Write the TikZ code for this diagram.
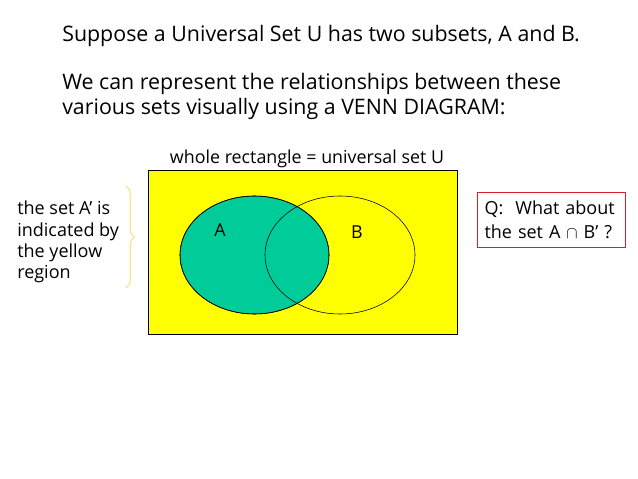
\documentclass[tikz,border=0pt]{standalone}
\usepackage{amsmath,amssymb}
\usepackage{fontspec}
\setmainfont{Open Sans}
\usetikzlibrary{decorations.pathreplacing}
\definecolor{vennyellow}{RGB}{255,255,0}
\definecolor{venngreen}{RGB}{0,204,153}
\definecolor{braceyellow}{RGB}{240,230,140}
\definecolor{qred}{RGB}{220,30,40}
\tikzset{
  slidetext/.style={anchor=base west,inner sep=0pt,font=\fontsize{15.2}{18}\selectfont},
  sidetext/.style={anchor=north west,inner sep=0pt,align=left,font=\fontsize{12.8}{15}\selectfont},
}

\begin{document}
\begin{tikzpicture}[x=0.025cm,y=-0.025cm]
 % \draw[thin,gray!40] (0,0) grid[step=50] (638,479);
  \useasboundingbox (0,0) rectangle (638,479);
  \node[slidetext] (line1) at (62,42) {Suppose a Universal Set U has two subsets, A and B.};
  \node[slidetext] (line2) at (62,90) {We can represent the relationships between these};
  \node[slidetext] (line3) at (62,114) {various sets visually using a VENN DIAGRAM:};
  \node[anchor=base,inner sep=0pt,font=\fontsize{12.7}{14}\selectfont] (ulabel) at (307,163) {whole rectangle = universal set U};
  \draw[fill=vennyellow] (148,170) rectangle (457,334);
  \draw[fill=venngreen] (254.5,255) ellipse [x radius=74.5, y radius=59];
  \draw (340,255) ellipse [x radius=75, y radius=59];
  \draw (254.5,255) ellipse [x radius=74.5, y radius=59];
  \node[font=\fontsize{12.7}{14}\selectfont] (A) at (220,230) {A};
  \node[font=\fontsize{12.7}{14}\selectfont] (B) at (357,232) {B};
  \node[sidetext] (note) at (17,201) {the set A’ is\\indicated by\\the yellow\\region};
  \coordinate (bt) at (126,186);
  \coordinate (bb) at (126,288);
  \draw[braceyellow,thick,decorate,decoration={brace,amplitude=6pt}] (bt) -- (bb);
  \node[draw=qred,thick,anchor=north west,align=left,text width=134*0.025cm,minimum height=55*0.025cm,
        inner xsep=7*0.025cm,font=\fontsize{12.8}{17}\selectfont] (Q) at (477,192) {Q:\ \ What about\\the set A $\cap$ B’ ?};
\end{tikzpicture}
\end{document}
